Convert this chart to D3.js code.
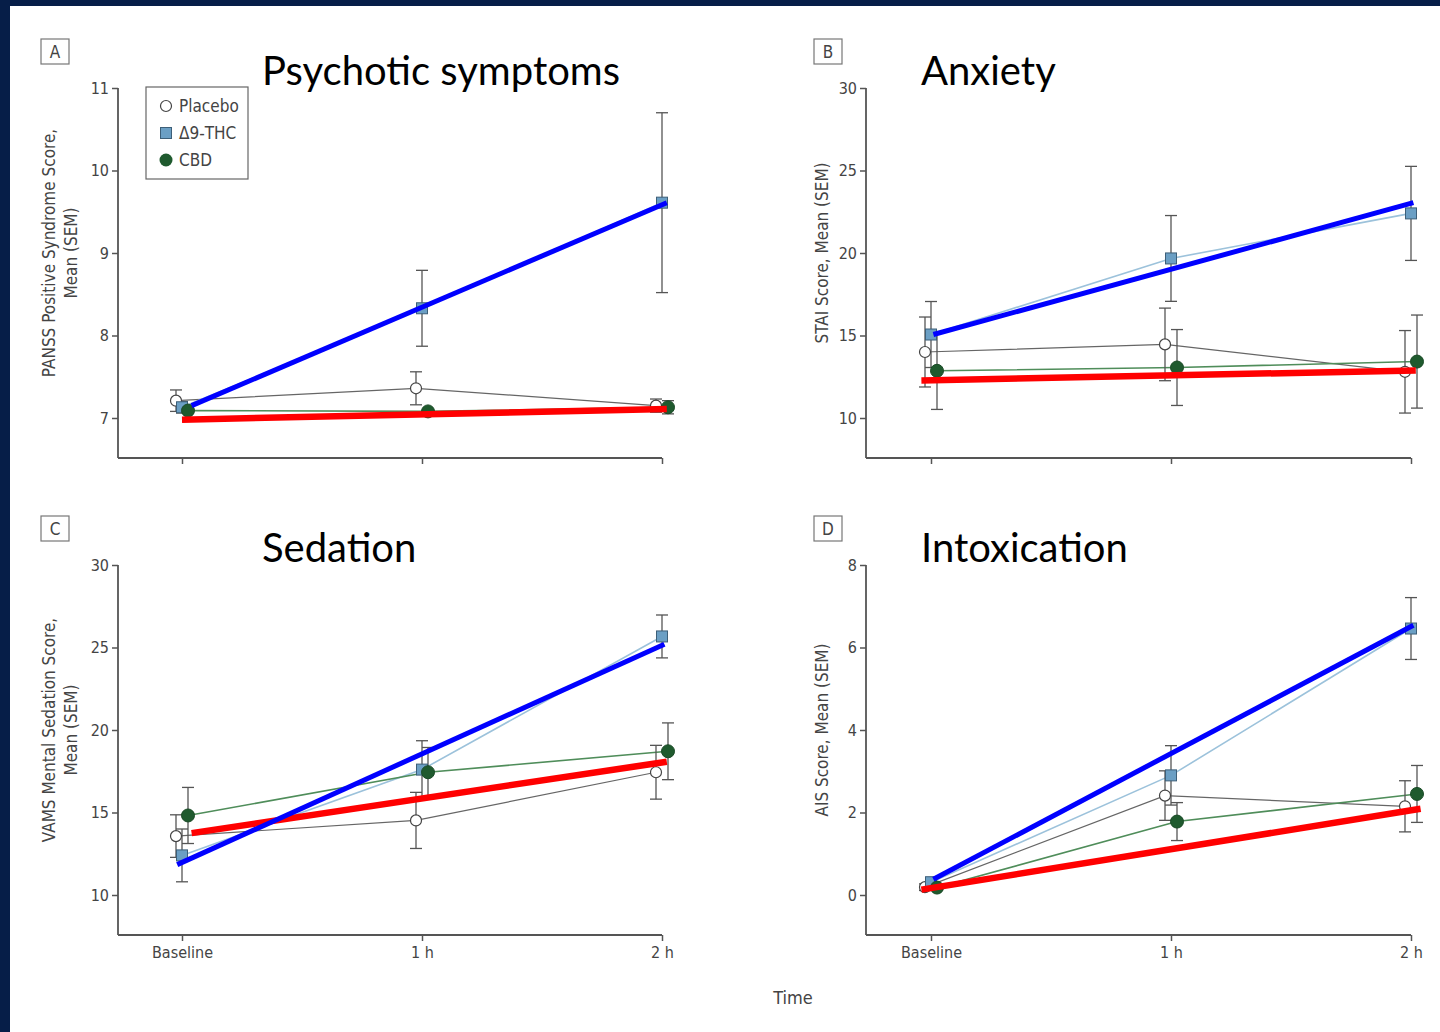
<!DOCTYPE html>
<html>
<head>
<meta charset="utf-8">
<script src="https://cdn.jsdelivr.net/npm/d3@7"></script>
<style>
  body { margin: 0; background: #fff; }
  svg { display: block; }
  .nar { font-family: "Liberation Sans Narrow", "Arial Narrow", "DejaVu Sans Condensed", sans-serif; }
</style>
</head>
<body>
<svg id="chart"></svg>
<script>
// time points and groups
var times = ["Baseline", "1 h", "2 h"];
var groups = ["Placebo", "Δ9-THC", "CBD"];

// A - PANSS positive (mean, sem)
var psyPlacebo = [7.21, 7.36, 7.15], psyPlaceboSem = [0.13, 0.2, 0.08];
var psyThc = [7.13, 8.33, 9.61], psyThcSem = [0.07, 0.46, 1.09];
var psyCbd = [7.09, 7.08, 7.13], psyCbdSem = [0.03, 0.02, 0.08];
var psyTicks = [7, 8, 9, 10, 11];

// B - STAI
var anxPlacebo = [14.0, 14.46, 12.8], anxPlaceboSem = [2.12, 2.2, 2.5];
var anxThc = [15.06, 19.67, 22.4], anxThcSem = [2.0, 2.6, 2.85];
var anxCbd = [12.86, 13.06, 13.42], anxCbdSem = [2.34, 2.3, 2.82];
var anxTicks = [10, 15, 20, 25, 30];

// C - VAMS mental sedation
var sedPlacebo = [13.57, 14.52, 17.44], sedPlaceboSem = [1.29, 1.7, 1.63];
var sedThc = [12.4, 17.6, 25.67], sedThcSem = [1.6, 1.75, 1.3];
var sedCbd = [14.82, 17.44, 18.71], sedCbdSem = [1.7, 1.5, 1.72];
var sedTicks = [10, 15, 20, 25, 30];

// D - AIS
var intPlacebo = [0.19, 2.41, 2.15], intPlaceboSem = [0.08, 0.6, 0.62];
var intThc = [0.31, 2.9, 6.46], intThcSem = [0.1, 0.72, 0.75];
var intCbd = [0.18, 1.78, 2.45], intCbdSem = [0.06, 0.46, 0.69];
var intTicks = [0, 2, 4, 6, 8];

// hand drawn trend overlays: [time index, value]
var psyBlue = [[0.04, 7.15], [2.02, 9.61]], psyRed = [[0, 6.98], [2.02, 7.11]];
var anxBlue = [[0.01, 15.06], [2.01, 23.05]], anxRed = [[-0.04, 12.28], [2.02, 12.88]];
var sedBlue = [[-0.02, 11.84], [2.01, 25.2]], sedRed = [[0.04, 13.75], [2.02, 18.08]];
var intBlue = [[0.01, 0.38], [2.01, 6.54]], intRed = [[-0.04, 0.13], [2.04, 2.09]];

var width = 1440, height = 1032;
var svg = d3.select("#chart").attr("width", width).attr("height", height);

// dark frame on top and left
svg.append("rect").attr("x", 0).attr("y", 0).attr("width", width).attr("height", 6).attr("fill", "#061e48");
svg.append("rect").attr("x", 0).attr("y", 0).attr("width", 10).attr("height", height).attr("fill", "#061e48");

var panels = [
  { letter: "A", title: "Psychotic symptoms", ylab: ["PANSS Positive Syndrome Score,", "Mean (SEM)"],
    left: 118, xs: 182, top: 88, bottom: 458, vTop: 11, vLow: 7, ticks: psyTicks, xlabels: false,
    means: [psyPlacebo, psyThc, psyCbd], sems: [psyPlaceboSem, psyThcSem, psyCbdSem], blue: psyBlue, red: psyRed },
  { letter: "B", title: "Anxiety", ylab: ["STAI Score, Mean (SEM)"],
    left: 866, xs: 931, top: 88, bottom: 458, vTop: 30, vLow: 10, ticks: anxTicks, xlabels: false,
    means: [anxPlacebo, anxThc, anxCbd], sems: [anxPlaceboSem, anxThcSem, anxCbdSem], blue: anxBlue, red: anxRed },
  { letter: "C", title: "Sedation", ylab: ["VAMS Mental Sedation Score,", "Mean (SEM)"],
    left: 118, xs: 182, top: 565, bottom: 935, vTop: 30, vLow: 10, ticks: sedTicks, xlabels: true,
    means: [sedPlacebo, sedThc, sedCbd], sems: [sedPlaceboSem, sedThcSem, sedCbdSem], blue: sedBlue, red: sedRed },
  { letter: "D", title: "Intoxication", ylab: ["AIS Score, Mean (SEM)"],
    left: 866, xs: 931, top: 565, bottom: 935, vTop: 8, vLow: 0, ticks: intTicks, xlabels: true,
    means: [intPlacebo, intThc, intCbd], sems: [intPlaceboSem, intThcSem, intCbdSem], blue: intBlue, red: intRed }
];

var lineColor = ["#666666", "#9cc2db", "#4f8d5a"];
var offsets = [-6, 0, 6];
var axisColor = "#555";

panels.forEach(function(p) {
  var g = svg.append("g");
  var right = p.left > 500;
  // lowest tick sits 40px above the x axis
  var lowTickY = p.bottom - 40;
  var y = d3.scaleLinear().domain([p.vLow, p.vTop]).range([lowTickY, p.top]);
  y.domain([y.invert(p.bottom), p.vTop]).range([p.bottom, p.top]);
  var x = d3.scalePoint().domain(times).range([p.xs, p.xs + 480]);
  var xi = d3.scaleLinear().domain([0, 2]).range([p.xs, p.xs + 480]);

  // panel letter
  var lx = p.left - (right ? 52 : 77), ly = p.top - 49;
  g.append("rect").attr("x", lx).attr("y", ly).attr("width", 28).attr("height", 25)
    .attr("fill", "#fff").attr("stroke", "#777").attr("stroke-width", 1.2);
  g.append("text").attr("class", "nar").attr("x", lx + 14).attr("y", ly + 19)
    .attr("text-anchor", "middle").attr("font-size", 17).attr("fill", "#444").text(p.letter);

  // title
  g.append("text").attr("x", p.left + 144 - (right ? 89 : 0)).attr("y", p.top - 3)
    .attr("font-family", "Lato, sans-serif").attr("font-size", 40).attr("fill", "#000").text(p.title);

  // y axis
  var ya = g.append("g").attr("transform", "translate(" + p.left + ",0)")
    .call(d3.axisLeft(y).tickValues(p.ticks).tickFormat(d3.format("d")).tickSize(6).tickSizeOuter(0).tickPadding(3));
  ya.select(".domain").remove();
  ya.selectAll("line").attr("stroke", axisColor).attr("stroke-width", 1.5);
  ya.selectAll("text").attr("class", "nar").attr("font-size", 16).attr("fill", "#444");
  g.append("line").attr("x1", p.left).attr("x2", p.left).attr("y1", p.top).attr("y2", p.bottom)
    .attr("stroke", axisColor).attr("stroke-width", 1.8);

  // x axis
  var xa = g.append("g").attr("transform", "translate(0," + p.bottom + ")")
    .call(d3.axisBottom(x).tickSize(6).tickSizeOuter(0).tickPadding(6));
  xa.select(".domain").remove();
  xa.selectAll("line").attr("stroke", axisColor).attr("stroke-width", 1.5);
  xa.selectAll("text").attr("class", "nar").attr("font-size", 16).attr("fill", "#444")
    .style("display", p.xlabels ? null : "none");
  g.append("line").attr("x1", p.left).attr("x2", p.xs + 480).attr("y1", p.bottom).attr("y2", p.bottom)
    .attr("stroke", axisColor).attr("stroke-width", 1.8);

  // y label
  var cy = (p.top + p.bottom) / 2 - 20;
  var yl = g.append("text").attr("class", "nar").attr("font-size", 17).attr("fill", "#444")
    .attr("text-anchor", "middle")
    .attr("transform", "translate(" + (p.left - (p.ylab.length > 1 ? 63 : 38)) + "," + cy + ") rotate(-90)");
  p.ylab.forEach(function(s, i) {
    yl.append("tspan").attr("x", 0).attr("dy", i === 0 ? 0 : 22).text(s);
  });

  // series lines
  p.means.forEach(function(m, k) {
    var line = d3.line().x(function(d, i) { return x(times[i]) + offsets[k]; }).y(function(d) { return y(d); });
    g.append("path").datum(m).attr("d", line).attr("fill", "none")
      .attr("stroke", lineColor[k]).attr("stroke-width", k === 0 ? 1.2 : 1.6);
  });

  // error bars
  p.means.forEach(function(m, k) {
    m.forEach(function(v, i) {
      var cx = x(times[i]) + offsets[k], s = p.sems[k][i];
      var eb = g.append("g").attr("stroke", "#555").attr("stroke-width", 1.3);
      eb.append("line").attr("x1", cx).attr("x2", cx).attr("y1", y(v + s)).attr("y2", y(v - s));
      eb.append("line").attr("x1", cx - 6).attr("x2", cx + 6).attr("y1", y(v + s)).attr("y2", y(v + s));
      eb.append("line").attr("x1", cx - 6).attr("x2", cx + 6).attr("y1", y(v - s)).attr("y2", y(v - s));
    });
  });

  // markers
  p.means.forEach(function(m, k) {
    m.forEach(function(v, i) {
      var cx = x(times[i]) + offsets[k], cyv = y(v);
      if (k === 0) {
        g.append("circle").attr("cx", cx).attr("cy", cyv).attr("r", 5.5)
          .attr("fill", "#fff").attr("stroke", "#444").attr("stroke-width", 1.2);
      } else if (k === 1) {
        g.append("rect").attr("x", cx - 5.5).attr("y", cyv - 5.5).attr("width", 11).attr("height", 11)
          .attr("fill", "#6b9fc4").attr("stroke", "#3d5f78").attr("stroke-width", 1);
      } else {
        g.append("circle").attr("cx", cx).attr("cy", cyv).attr("r", 6.5)
          .attr("fill", "#1f5a2e").attr("stroke", "#1a4a26").attr("stroke-width", 1);
      }
    });
  });

  // overlay trend lines
  var tl = d3.line().x(function(d) { return xi(d[0]); }).y(function(d) { return y(d[1]); });
  g.append("path").datum(p.red).attr("d", tl).attr("stroke", "#ff0000").attr("stroke-width", 6.5).attr("fill", "none");
  g.append("path").datum(p.blue).attr("d", tl).attr("stroke", "#0000ff").attr("stroke-width", 5).attr("fill", "none");

  // legend only in panel A
  if (p.letter === "A") {
    var lg = g.append("g");
    lg.append("rect").attr("x", 146).attr("y", 87).attr("width", 102).attr("height", 92)
      .attr("fill", "#fff").attr("stroke", "#666").attr("stroke-width", 1.2);
    groups.forEach(function(name, k) {
      var yy = 106 + k * 27;
      if (k === 0) lg.append("circle").attr("cx", 166).attr("cy", yy).attr("r", 5.5).attr("fill", "#fff").attr("stroke", "#444").attr("stroke-width", 1.2);
      else if (k === 1) lg.append("rect").attr("x", 160.5).attr("y", yy - 5.5).attr("width", 11).attr("height", 11).attr("fill", "#6b9fc4").attr("stroke", "#3d5f78");
      else lg.append("circle").attr("cx", 166).attr("cy", yy).attr("r", 6.5).attr("fill", "#1f5a2e");
      lg.append("text").attr("class", "nar").attr("x", 179).attr("y", yy + 6).attr("font-size", 17)
        .attr("fill", "#444").text(name);
    });
  }
});

// shared x label
svg.append("text").attr("class", "nar").attr("x", 793).attr("y", 1004).attr("text-anchor", "middle")
  .attr("font-size", 18).attr("fill", "#444").text("Time");
</script>
</body>
</html>
